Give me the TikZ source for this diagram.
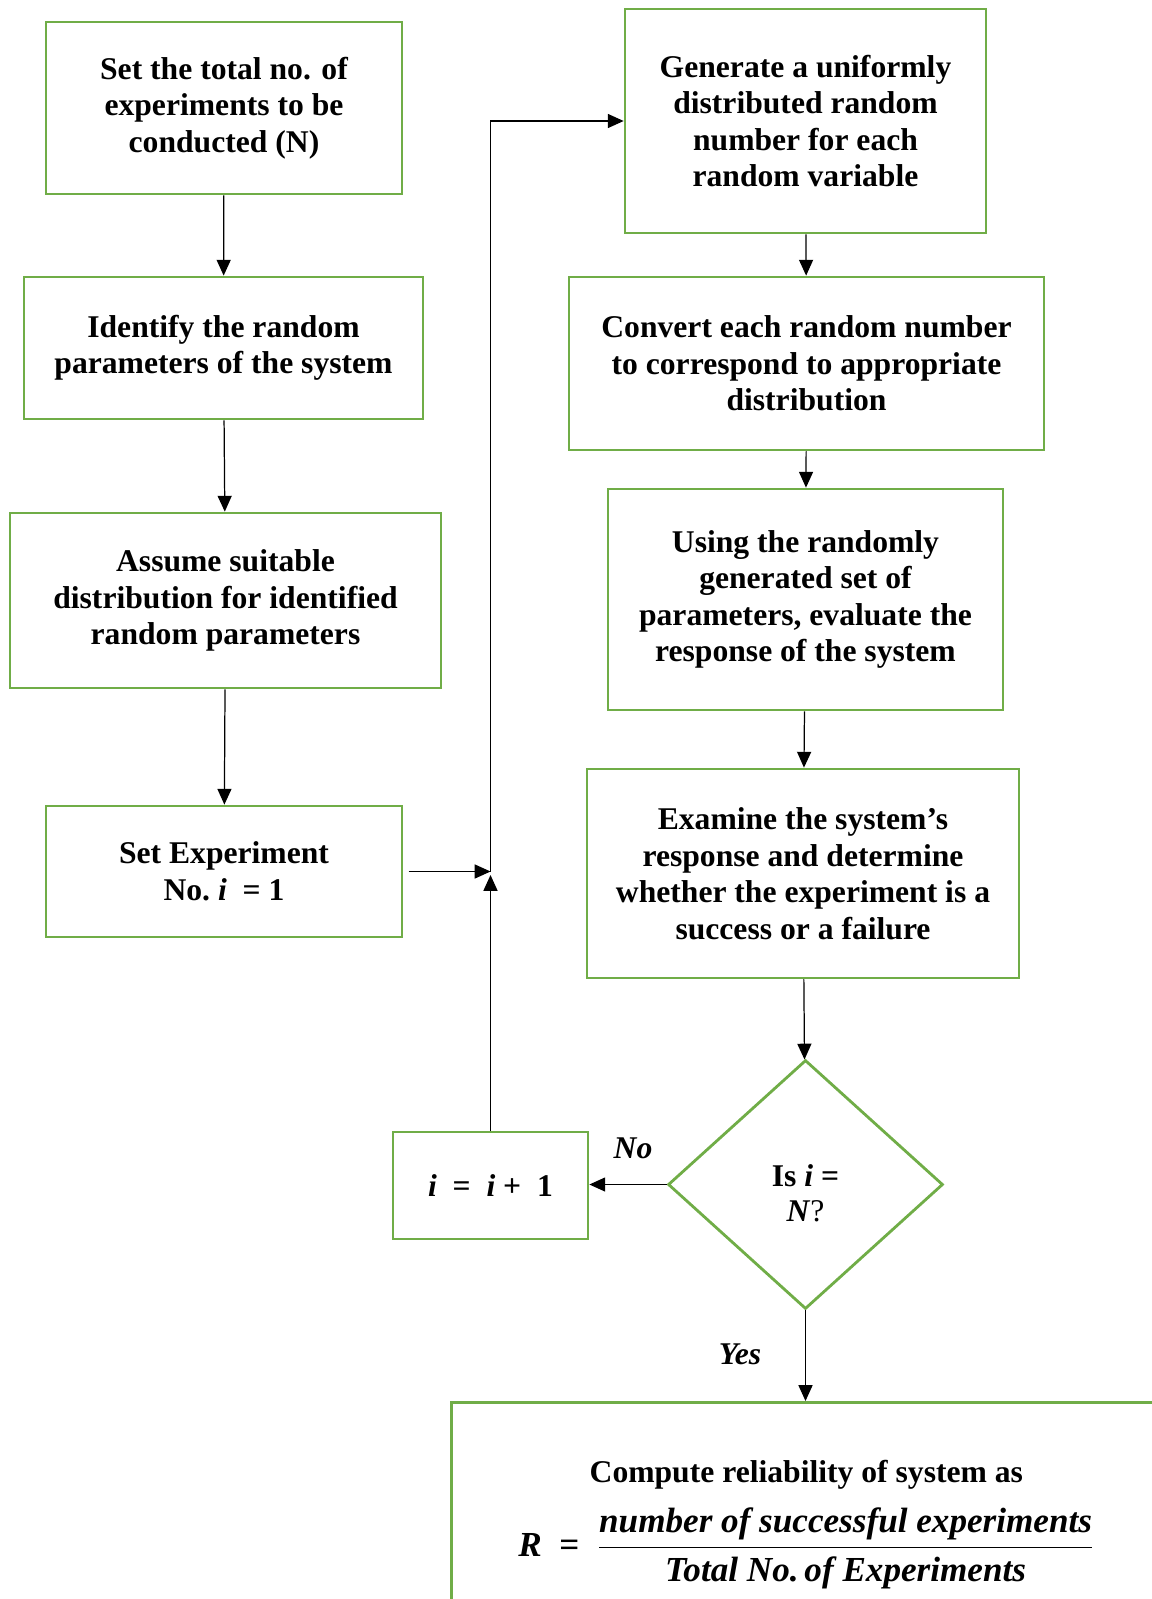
\documentclass[tikz,border=0pt]{standalone}
\usepackage{fontspec}
\setmainfont{Liberation Serif}
\usetikzlibrary{arrows.meta,positioning,shapes.geometric}
\definecolor{boxgreen}{RGB}{112,173,71}
\tikzset{
	>={Triangle[length=9pt,width=8pt]},
	punkt/.style={
		rectangle,
		% fill=black!10,
		draw=boxgreen, line width=1.6pt,
		align=center,
		inner sep=2pt,
		font=\fontsize{18}{20.8}\selectfont\bfseries},
	decide/.style={
		diamond,
		draw=boxgreen, line width=1.6pt,
		align=center,
		inner sep=0pt,
		minimum width=5.5cm,
		minimum height=4.98cm,
		font=\fontsize{18}{20}\selectfont\bfseries},
	line/.style={draw, line width=0.7pt, ->},
	tag/.style={font=\fontsize{18}{21}\selectfont\bfseries\itshape},
}

\begin{document}
\begin{tikzpicture}
	[x=0.02cm, y=-0.02cm]
	\useasboundingbox (0,0) rectangle (1152,1599);
	% left column
	\node[punkt, minimum width=7.12cm, minimum height=3.44cm] (n1) at (224,108)
		{Set the total no. of\\experiments to be\\conducted (N)};
	\node[punkt, minimum width=7.98cm, minimum height=2.84cm] (n2) at (223.5,348)
		{Identify the random\\parameters of the system};
	\node[punkt, minimum width=8.62cm, minimum height=3.5cm] (n3) at (225.5,600.5)
		{Assume suitable\\distribution for identified\\random parameters};
	\node[punkt, minimum width=7.12cm, minimum height=2.62cm] (n4) at (224,871.5)
		{Set Experiment\\No.\ \textit{i}\ \ = 1};
	% right column
	\node[punkt, minimum width=7.22cm, minimum height=4.48cm] (nA) at (805.5,121)
		{Generate a uniformly\\distributed random\\number for each\\random variable};
	\node[punkt, minimum width=9.5cm, minimum height=3.46cm] (nB) at (806.5,363.5)
		{Convert each random number\\to correspond to appropriate\\distribution};
	\node[punkt, minimum width=7.9cm, minimum height=4.42cm] (nC) at (805.5,599.5)
		{Using the randomly\\generated set of\\parameters, evaluate the\\response of the system};
	\node[punkt, minimum width=8.64cm, minimum height=4.18cm] (nD) at (803,873.5)
		{Examine the system's\\response and determine\\whether the experiment is a\\success or a failure};
	\node[decide] (dia) at (805.5,1184.5) {\rule{0pt}{22pt}Is \textit{i} =\\\textit{N}\textmd{?}};
	\node[punkt, minimum width=3.9cm, minimum height=2.14cm] (ninc) at (490.5,1185.5)
		{\textit{i}\ \ =\ \ \textit{i} + \ 1};
	\node[punkt, anchor=north west, minimum width=14.2cm, minimum height=4.9cm] (nR) at (450,1401)
		{Compute reliability of system as\\[9pt]
		{\fontsize{20}{24}\selectfont
		$\mbox{\itshape R}\ \ \mbox{=}\ \ \displaystyle\frac{\mbox{\itshape number of successful experiments}}{\mbox{\itshape Total No.\,of Experiments}}$}};
	% labels
	\node[tag] (no) at (633,1148) {No};
	\node[tag] (yes) at (740,1354) {Yes};
	% connectors
	\draw[line] (n1) -- (n2);
	\draw[line] (n2) -- (n3);
	\draw[line] (n3) -- (n4);
	\draw[line] (nA) -- (nB);
	\draw[line] (nB) -- (nC);
	\draw[line] (nC) -- (nD);
	\draw[line] (nD) -- (dia);
	\draw[line] (dia.west) -- (dia.west -| ninc.east);
	\draw[line] (dia.south) -- (nR.north -| dia.south);
	\coordinate (jn) at (ninc.north |- n4.east);
	\draw[line, shorten <=3pt] (n4.east) -- (jn);
	\draw[line] (ninc.north) -- ([yshift=-2pt]jn);
	\draw[line] (jn) |- (nA.west);
\end{tikzpicture}
\end{document}
